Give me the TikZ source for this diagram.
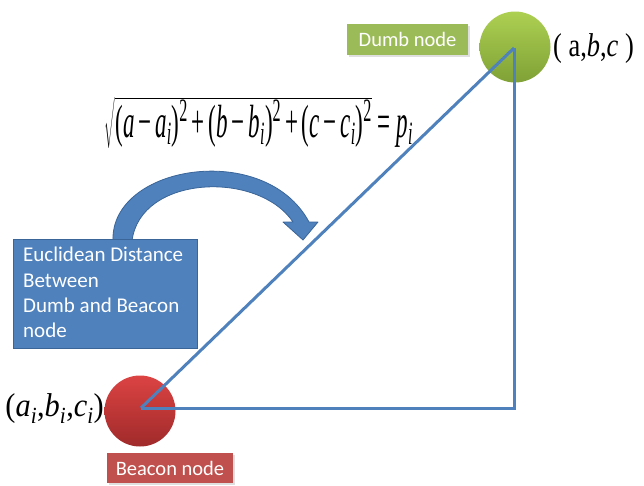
\documentclass[tikz,border=0pt]{standalone}
\usepackage{fontspec}
\usepackage{graphicx}
\newfontfamily\calib{Carlito}
\newfontfamily\tms{Liberation Serif}
\usetikzlibrary{shadows}
\definecolor{lineblue}{HTML}{4F81BD}
\definecolor{boxborder}{HTML}{3A6599}
\definecolor{greenfill}{HTML}{9BBB59}
\definecolor{redfill}{HTML}{C0504D}
\definecolor{greentop}{HTML}{ADD052}
\definecolor{greenbot}{HTML}{7FA136}
\definecolor{redtop}{HTML}{DC4343}
\definecolor{redbot}{HTML}{A02A2A}
\newcommand{\iv}[1]{\textit{#1}}
\newcommand{\sbi}{\textsubscript{\textit{i}}}
\tikzset{
  conn/.style={draw=lineblue, line width=3pt, line join=miter},
  ball/.style={circle, minimum size=71pt, inner sep=0pt},
  tag/.style={font=\calib\fontsize{20.5}{24}\selectfont, text=white, inner sep=0pt,
     drop shadow={shadow xshift=1.5pt, shadow yshift=-1.5pt, opacity=0.25}},
  coordlabel/.style={font=\tms\fontsize{33}{38}\selectfont, inner sep=0pt},
}
\begin{document}
\begin{tikzpicture}[x=1pt,y=-1pt]
\useasboundingbox (0,0) rectangle (644,485);
% balls
\node[ball, top color=greentop, bottom color=greenbot] (dumb) at (515,47) {};
\node[ball, top color=redtop, bottom color=redbot] (beacon) at (140,411) {};
\coordinate (corner) at (514,408);
\coordinate (dumbc) at (514,48);
\coordinate (beaconc) at (141,408);
% triangle
\draw[conn] (beaconc) -- (dumbc);
\draw[conn] (beaconc) -- (corner) -- (dumbc);
% tags
\node[tag, fill=greenfill, minimum width=121pt, minimum height=31pt] (dumbtag) at (407.5,39.5) {Dumb node};
\node[tag, fill=redfill, minimum width=126pt, minimum height=30pt] (beacontag) at (170,468) {Beacon node};
% coordinate labels
\node[coordlabel, anchor=west] (abc) at (553,49) {\scalebox{0.8}[1]{( a,\iv{b},\iv{c} )}};
\node[coordlabel, anchor=east] (abci) at (104,409) {\scalebox{0.92}[1]{(\iv{a}\sbi,\iv{b}\sbi,\iv{c}\sbi)}};
% formula
\node[inner sep=0pt] (formula) at (259,122.5)
  {\resizebox{308pt}{41pt}{$\sqrt{\hbox{\tms\fontsize{22}{26}\selectfont (\iv{a}\,−\,\iv{a}\sbi)\textsuperscript{2}\,+\,(\iv{b}\,−\,\iv{b}\sbi)\textsuperscript{2}\,+\,(\iv{c}\,−\,\iv{c}\sbi)\textsuperscript{2}}}\hbox{\tms\fontsize{22}{26}\selectfont\ =\ \iv{p}\sbi}$}};
% curved arrow
\path[fill=lineblue, draw=boxborder, line width=0.8pt, line join=round]
  (113,241) .. controls (110,165) and (265,140) .. (309,222)
  -- (318,222) -- (303,240) -- (283,222) -- (293,222)
  .. controls (258,170) and (140,175) .. (132,241) -- cycle;
% blue box
\node[draw=boxborder, fill=lineblue, line width=1pt, minimum width=184pt, minimum height=109pt,
      inner sep=0pt] (box) at (105,293.5) {};
\node[font=\calib\fontsize{21}{25.3}\selectfont, text=white, align=left, anchor=north west,
      inner sep=0pt] (boxtext) at (23,247) {Euclidean Distance\\Between\\Dumb and Beacon\\node};
\end{tikzpicture}
\end{document}
